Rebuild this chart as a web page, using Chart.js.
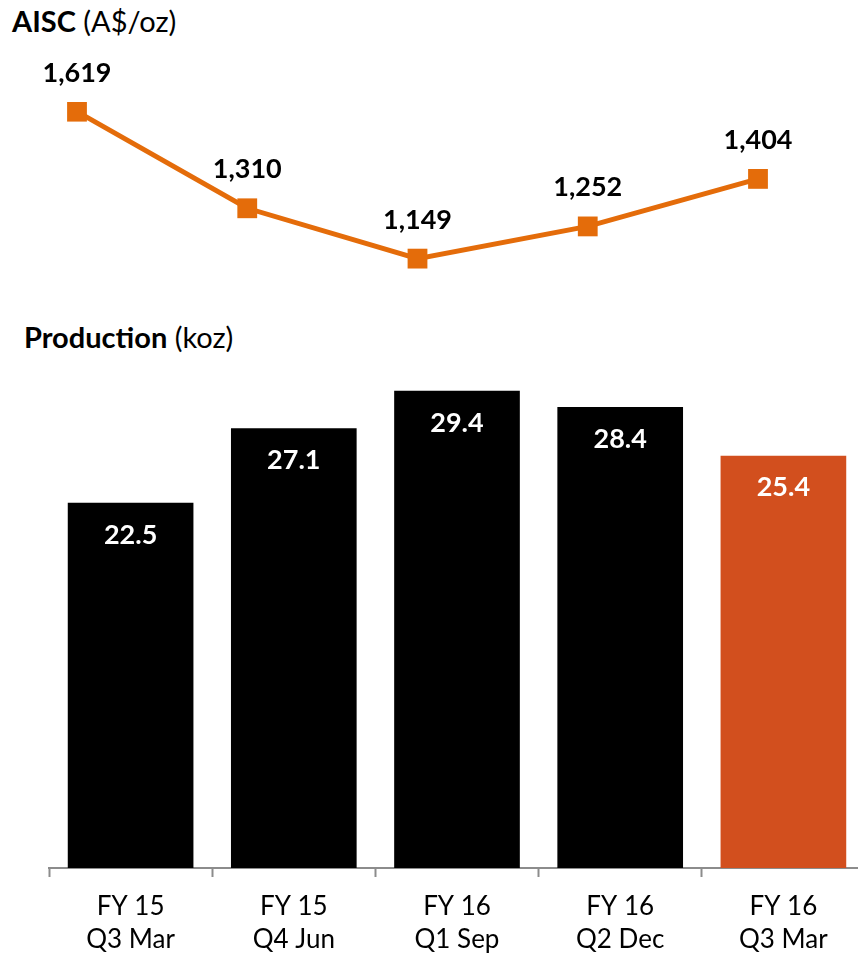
<!DOCTYPE html>
<html lang="en">
<head>
<meta charset="UTF-8">
<title>AISC and Production</title>
<script src="https://cdn.jsdelivr.net/npm/chart.js"></script>
<style>
  html, body { margin: 0; padding: 0; background: #fff; overflow: hidden; }
  body { width: 858px; height: 954px; position: relative; font-family: Lato, sans-serif; color: #000; }
  .heading { position: absolute; font-size: 29px; line-height: normal; white-space: nowrap; }
  .heading b { font-weight: 700; }
  #aisc { position: absolute; left: 0; top: 2px; }
  #prod { position: absolute; left: 0; top: 360px; }
</style>
</head>
<body>
  <div class="heading" style="left:12px; top:3px;"><b>AISC</b> (A$/oz)</div>
  <div class="heading" style="left:24px; top:319px;"><b>Production</b> (koz)</div>
  <canvas id="aisc" width="858" height="300"></canvas>
  <canvas id="prod" width="880" height="594"></canvas>

<script>
  const quarters = [['FY 15', 'Q3 Mar'], ['FY 15', 'Q4 Jun'], ['FY 16', 'Q1 Sep'], ['FY 16', 'Q2 Dec'], ['FY 16', 'Q3 Mar']];
  const aiscValues = [1619, 1310, 1149, 1252, 1404];
  const productionValues = [22.5, 27.1, 29.4, 28.4, 25.4];

  const lineOrange = '#E46C0A';
  const barColors = ['#000000', '#000000', '#000000', '#000000', '#D24F1E'];

  // writes each value next to its mark
  const valueLabels = {
    id: 'valueLabels',
    afterDatasetsDraw(chart, args, opts) {
      const ctx = chart.ctx;
      const ds = chart.data.datasets[0];
      ctx.save();
      ctx.font = 'bold 27px Lato';
      ctx.fillStyle = opts.color;
      ctx.textAlign = 'center';
      ctx.textBaseline = opts.baseline;
      chart.getDatasetMeta(0).data.forEach((el, i) => {
        ctx.fillText(opts.format(ds.data[i]), el.x, el.y + opts.dy);
      });
      ctx.restore();
    }
  };

  new Chart(document.getElementById('aisc'), {
    type: 'line',
    data: {
      labels: quarters,
      datasets: [{
        data: aiscValues,
        borderColor: lineOrange,
        backgroundColor: lineOrange,
        borderWidth: 5,
        tension: 0,
        pointStyle: 'rect',
        pointRadius: 14,
        pointBorderWidth: 0,
        pointBackgroundColor: lineOrange
      }]
    },
    options: {
      responsive: false,
      animation: false,
      layout: { padding: { left: 77, right: 100, top: 100, bottom: 10 } },
      scales: {
        x: { display: false, offset: false },
        y: { display: false, min: 1055, max: 1650 }
      },
      plugins: {
        legend: { display: false },
        tooltip: { enabled: false },
        valueLabels: {
          color: '#000',
          baseline: 'alphabetic',
          dy: -30,
          format: v => v.toLocaleString('en-US')
        }
      }
    },
    plugins: [valueLabels]
  });

  new Chart(document.getElementById('prod'), {
    type: 'bar',
    data: {
      labels: quarters,
      datasets: [{
        data: productionValues,
        backgroundColor: barColors,
        barPercentage: 0.77,
        categoryPercentage: 1
      }]
    },
    options: {
      responsive: false,
      animation: false,
      layout: { padding: { left: 49, right: 15, top: 0, bottom: 0 } },
      scales: {
        x: {
          grid: {
            drawOnChartArea: false,
            tickLength: 9,
            tickWidth: 2,
            tickColor: '#8C8C8C'
          },
          border: { color: '#8C8C8C', width: 2 },
          ticks: {
            color: '#000',
            padding: 13,
            maxRotation: 0,
            font: { family: 'Lato', size: 26, lineHeight: 1.27 }
          },
          afterFit(scale) { scale.height = 86; }
        },
        y: { display: false, min: 0, max: 31.3 }
      },
      plugins: {
        legend: { display: false },
        tooltip: { enabled: false },
        valueLabels: {
          color: '#fff',
          baseline: 'middle',
          dy: 32,
          format: v => v.toFixed(1)
        }
      }
    },
    plugins: [valueLabels]
  });
</script>
</body>
</html>
